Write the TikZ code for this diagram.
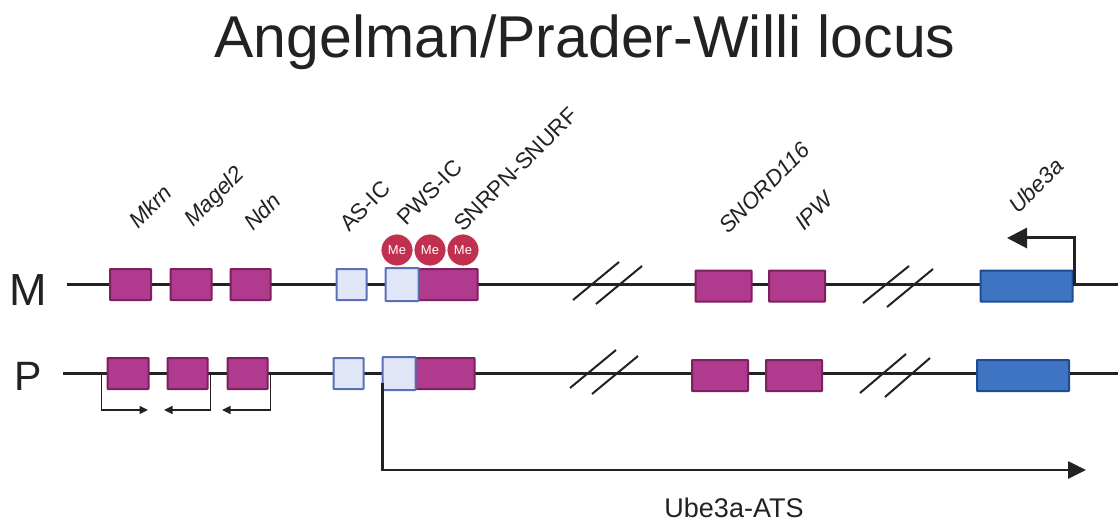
\documentclass[tikz,border=0pt]{standalone}
\usepackage{fontspec}
\setmainfont{Liberation Sans}
\usetikzlibrary{arrows.meta}
\definecolor{mag}{HTML}{B03A8E}
\definecolor{magd}{HTML}{7E1F5E}
\definecolor{lb}{HTML}{E1E7F8}
\definecolor{lbd}{HTML}{5B6FB5}
\definecolor{bl}{HTML}{3E74C2}
\definecolor{bld}{HTML}{1E4A96}
\definecolor{mecol}{HTML}{C1304F}
\definecolor{ink}{HTML}{222222}
\begin{document}
\begin{tikzpicture}[x=1pt,y=-1pt,
  boxbase/.style={line width=2pt,minimum height=31pt,inner sep=0pt,rounded corners=0.5pt},
  gene/.style={boxbase,draw=magd,fill=mag},
  ic/.style={boxbase,draw=lbd,fill=lb},
  ube/.style={boxbase,draw=bld,fill=bl},
  chrom/.style={draw=ink,line width=3pt},
  brk/.style={draw=ink,line width=2pt},
  glabel/.style={rotate=45,anchor=base west,inner sep=0pt,font=\fontsize{22.5}{22.5}\selectfont\itshape,text=ink},
  rlabel/.style={rotate=45,anchor=base west,inner sep=0pt,font=\fontsize{22.5}{22.5}\selectfont,text=ink},
  mecirc/.style={circle,fill=mecol,draw=white,line width=0.8pt,minimum size=32pt,inner sep=0pt,text=white,font=\fontsize{13}{13}\selectfont},
  smallarr/.style={draw=ink,line width=1.5pt,-{Triangle[length=8.5pt,width=8pt]}},
  bigarr/.style={draw=ink,line width=2.6pt,-{Triangle[length=18pt,width=17pt]}},
  rowlab/.style={text=ink,inner sep=0pt,anchor=base}
]
\useasboundingbox (0,0) rectangle (1118,521);

% title
\node[font=\fontsize{59}{59}\selectfont,text=ink,anchor=base] (title) at (585,58) {Angelman/Prader-Willi locus};

% row labels
\node[rowlab,font=\fontsize{45}{45}\selectfont] (labM) at (28.5,305) {M};
\node[rowlab,font=\fontsize{41}{41}\selectfont] (labP) at (28.5,390) {P};

% chromosome lines
\coordinate (mL) at (67,284);
\coordinate (mR) at (1118,284);
\coordinate (pL) at (63,373);
\coordinate (pR) at (1118,373);
\draw[chrom] (mL) -- (mR);
\draw[chrom] (pL) -- (pR);

% break marks
\draw[brk] (573,300) -- (619,262);
\draw[brk] (596,304) -- (642,266);
\draw[brk] (863,303) -- (909,266);
\draw[brk] (887,307) -- (933,269);
\draw[brk] (570,388) -- (616,350);
\draw[brk] (592,394) -- (638,356);
\draw[brk] (860,393) -- (906,354);
\draw[brk] (885,397) -- (930,358);

% maternal boxes
\node[gene,minimum width=41pt] (mkM) at (130.5,284.5) {};
\node[gene,minimum width=41pt] (mgM) at (191,284.5) {};
\node[gene,minimum width=40pt] (ndM) at (250.5,284.5) {};
\node[ic,minimum width=30pt] (asM) at (351.5,284.5) {};
\node[ic,minimum width=31pt] (pwM) at (402,284.5) {};
\node[gene,minimum width=59pt] (snM) at (448,284.5) {};
\node[gene,minimum width=56pt] (soM) at (723.5,286) {};
\node[gene,minimum width=56pt] (ipM) at (797,286) {};
\node[ube,minimum width=92pt] (ubM) at (1026.5,286) {};
\draw[ic] (pwM.north west) rectangle (pwM.south east);

% paternal boxes
\node[gene,minimum width=41pt] (mkP) at (128,373.5) {};
\node[gene,minimum width=40pt] (mgP) at (187.5,373.5) {};
\node[gene,minimum width=40pt] (ndP) at (247.5,373.5) {};
\node[ic,minimum width=30pt] (asP) at (348.5,373.5) {};
\node[ic,minimum width=31pt] (pwP) at (399,373.5) {};
\node[gene,minimum width=59pt] (snP) at (445,373.5) {};
\node[gene,minimum width=56pt] (soP) at (720,375.5) {};
\node[gene,minimum width=56pt] (ipP) at (794,375.5) {};
\node[ube,minimum width=92pt] (ubP) at (1023,375.5) {};
\draw[ic] (pwP.north west) rectangle (pwP.south east);

% methylation
\node[mecirc] (me1) at (397,250) {Me};
\node[mecirc] (me2) at (430,250) {Me};
\node[mecirc] (me3) at (463,250) {Me};

% gene labels
\node[glabel] (tMk) at (138,230) {Mkrn};
\node[glabel] (tMg) at (193,228) {Magel2};
\node[glabel] (tNd) at (253,232) {Ndn};
\node[rlabel] (tAs) at (349,233) {AS-IC};
\node[rlabel] (tPw) at (406,227) {PWS-IC};
\node[rlabel] (tSn) at (463,233) {SNRPN-SNURF};
\node[glabel] (tSo) at (728,235) {SNORD116};
\node[glabel] (tIp) at (804,232) {IPW};
\node[glabel] (tUb) at (1018,215) {Ube3a};

% Ube3a maternal transcription arrow
\coordinate (ubTip) at (1007,238);
\draw[bigarr,line width=3pt,-{Triangle[length=20pt,width=20pt]}] ([xshift=1pt]ubM.east) |- (ubTip);

% small transcription arrows on paternal allele
\coordinate (mkEnd) at (148,410);
\coordinate (mgEnd) at (164,410);
\coordinate (ndEnd) at (222,410);
\draw[smallarr] ([xshift=-5pt]mkP.west) |- (mkEnd);
\draw[smallarr] ([xshift=2pt]mgP.east) |- (mgEnd);
\draw[smallarr] ([xshift=2pt]ndP.east) |- (ndEnd);

% Ube3a-ATS
\coordinate (atsEnd) at (1086,470);
\draw[bigarr] ([yshift=-9pt]pwP.west) |- (atsEnd);
\node[font=\fontsize{27}{27}\selectfont,text=ink,anchor=base] (ats) at (734,517) {Ube3a-ATS};
\end{tikzpicture}
\end{document}
